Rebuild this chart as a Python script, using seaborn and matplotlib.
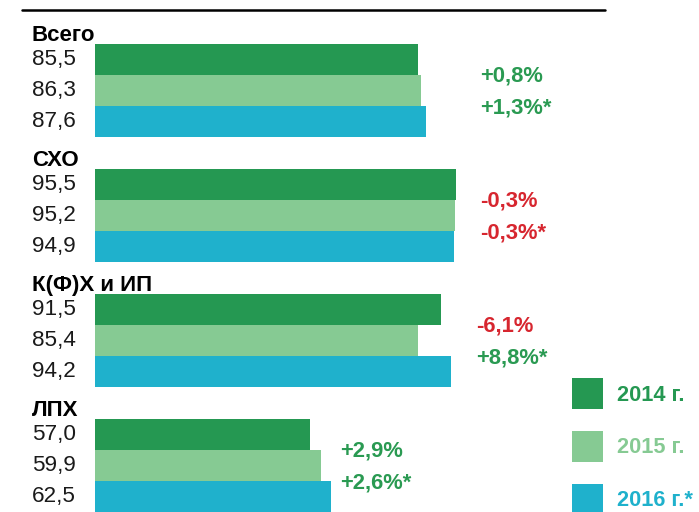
import matplotlib
matplotlib.use('Agg')
import matplotlib.pyplot as plt
from matplotlib.lines import Line2D
import pandas as pd
import seaborn as sns

# данные
groups = ['Всего', 'СХО', 'К(Ф)Х и ИП', 'ЛПХ']
years = ['2014 г.', '2015 г.', '2016 г.*']
v2014 = [85.5, 95.5, 91.5, 57.0]
v2015 = [86.3, 95.2, 85.4, 59.9]
v2016 = [87.6, 94.9, 94.2, 62.5]
chg_2015 = ['+0,8%', '-0,3%', '-6,1%', '+2,9%']
chg_2016 = ['+1,3%*', '-0,3%*', '+8,8%*', '+2,6%*']

colors = ['#259852', '#86CA93', '#1FB1CC']
green_txt = '#2A9A52'
red_txt = '#D7262F'

# положение подписей изменений (в единицах оси x)
chg_x = [101.8, 101.8, 100.8, 64.8]

df = pd.DataFrame({
    'group': groups * 3,
    'year': [y for y in years for _ in groups],
    'value': v2014 + v2015 + v2016,
})

sns.set_style('white')
plt.rcParams['font.family'] = ['Liberation Sans', 'DejaVu Sans']

fig = plt.figure(figsize=(6.99, 5.12), dpi=100)
ax = fig.add_axes([0, 0, 1, 1])

sns.barplot(data=df, x='value', y='group', hue='year', orient='h',
            palette=colors, width=0.75, saturation=1, linewidth=0, ax=ax)

ax.set_xlim(-25.13, 159.8)
ax.set_ylim(3.372, -0.724)
ax.axis('off')

# подписи значений и заголовки групп
vals = [v2014, v2015, v2016]
for j, cont in enumerate(ax.containers):
    for i, bar in enumerate(cont):
        yc = bar.get_y() + bar.get_height() / 2
        ax.text(-16.7, yc, f'{vals[j][i]:.1f}'.replace('.', ','),
                fontsize=16.2, va='center', ha='left', color='#1a1a1a')
        if j == 0:
            ax.text(-16.7, bar.get_y() - 0.02, groups[i], fontsize=16,
                    fontweight='bold', va='baseline', ha='left', color='black')

# изменения
for i in range(len(groups)):
    for j, chg in [(1, chg_2015), (2, chg_2016)]:
        bar = ax.containers[j][i]
        c = red_txt if chg[i].startswith('-') else green_txt
        ax.text(chg_x[i], bar.get_y() + 0.012, chg[i], fontsize=15.8,
                fontweight='bold', va='center', ha='left', color=c)

# легенда
handles, labels = ax.get_legend_handles_labels()
leg = ax.legend(handles, labels, loc='upper left',
                bbox_to_anchor=(572 / 699, 1 - 378 / 512),
                bbox_transform=fig.transFigure, frameon=False,
                borderpad=0, borderaxespad=0, handlelength=1.42,
                handleheight=1.81, labelspacing=1.0, handletextpad=0.64,
                prop={'size': 15.7, 'weight': 'bold'})
for t, c in zip(leg.get_texts(), colors):
    t.set_color(c)

# линия сверху
fig.add_artist(Line2D([22 / 699, 605 / 699], [1 - 10 / 512] * 2,
                      color='black', lw=1.8, transform=fig.transFigure))

fig.savefig('out.png', dpi=100)
